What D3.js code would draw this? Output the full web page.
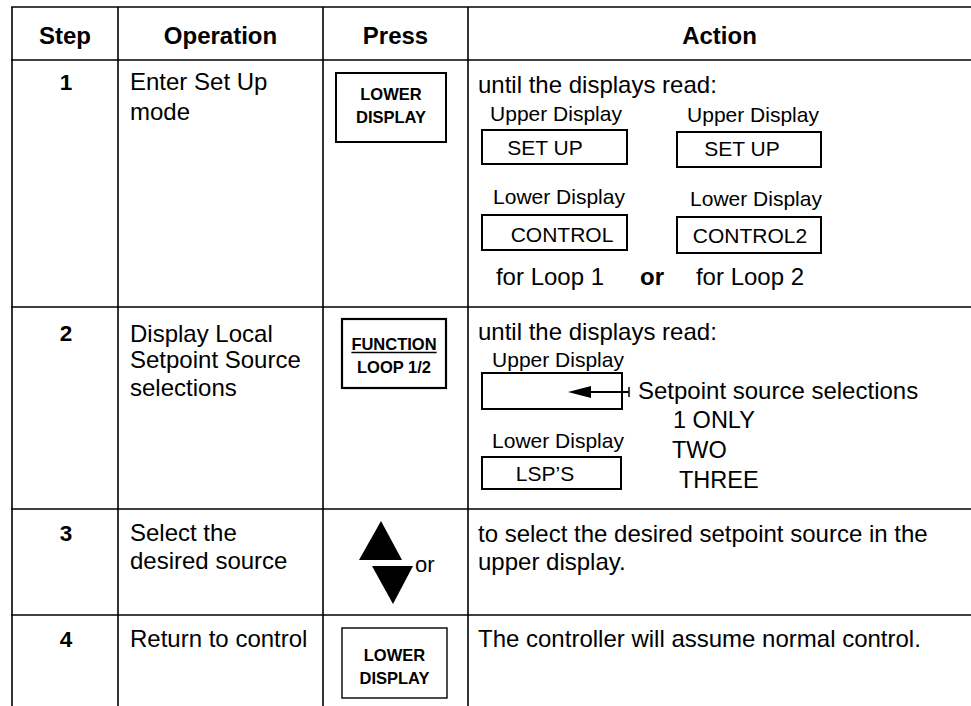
<!DOCTYPE html>
<html>
<head>
<meta charset="utf-8">
<script src="https://cdn.jsdelivr.net/npm/d3@7"></script>
<style>
  html, body { margin: 0; padding: 0; background: #fff; }
  svg { display: block; font-family: "Liberation Sans", Arial, Helvetica, sans-serif; }
</style>
</head>
<body>
<svg id="chart" width="971" height="706"></svg>
<script>
// ---------------- data ----------------
const headers = ["Step", "Operation", "Press", "Action"];
const steps = ["1", "2", "3", "4"];
const operations = [
  ["Enter Set Up", "mode"],
  ["Display Local", "Setpoint Source", "selections"],
  ["Select the", "desired source"],
  ["Return to control"]
];
const pressKeys = [
  ["LOWER", "DISPLAY"],
  ["FUNCTION", "LOOP 1/2"],
  null,
  ["LOWER", "DISPLAY"]
];
const arrowKeyWord = "or";
const actionIntro = [
  ["until the displays read:"],
  ["until the displays read:"],
  ["to select the desired setpoint source in the", "upper display."],
  ["The controller will assume normal control."]
];
const displayLabels = ["Upper Display", "Lower Display"];
const loop1Displays = ["SET UP", "CONTROL"];
const loop2Displays = ["SET UP", "CONTROL2"];
const loopCaptions = ["for Loop 1", "or", "for Loop 2"];
const setpointCaption = "Setpoint source selections";
const setpointSources = ["1 ONLY", "TWO", "THREE"];
const lspDisplay = "LSP\u2019S";

// ---------------- layout ----------------
const W = 971, H = 706;
const svg = d3.select("#chart");
const colEdges = [12, 118, 323, 468, 971];
const rowEdges = [7, 60, 307, 509, 615, 706];
const x = d3.scaleOrdinal().domain(headers).range(colEdges.slice(0, 4));
const xEnd = d3.scaleOrdinal().domain(headers).range(colEdges.slice(1));
const xMid = h => (x(h) + xEnd(h)) / 2;

const LW = 1.6;
// grid
const g = svg.append("g").attr("stroke", "#000").attr("stroke-width", LW);
g.selectAll("line.h").data(rowEdges.slice(0, 5)).join("line")
  .attr("x1", colEdges[0] - LW / 2).attr("x2", W)
  .attr("y1", d => d).attr("y2", d => d);
g.selectAll("line.v").data(colEdges.slice(0, 4)).join("line")
  .attr("x1", d => d).attr("x2", d => d)
  .attr("y1", rowEdges[0]).attr("y2", H);

// header
svg.append("g").selectAll("text").data(headers).join("text")
  .attr("x", d => xMid(d)).attr("y", 44)
  .attr("text-anchor", "middle").attr("font-weight", "bold").attr("font-size", 24)
  .text(d => d);

// step numbers
const stepBase = [90, 341, 541, 647];
svg.append("g").selectAll("text").data(steps).join("text")
  .attr("x", xMid("Step") + 1).attr("y", (d, i) => stepBase[i])
  .attr("text-anchor", "middle").attr("font-weight", "bold").attr("font-size", 22.5)
  .text(d => d);

// operations
const opBase = [[90, 120], [342, 368, 396], [541, 569], [647]];
operations.forEach((lines, i) => {
  svg.append("g").selectAll("text").data(lines).join("text")
    .attr("x", x("Operation") + 12).attr("y", (d, j) => opBase[i][j])
    .attr("font-size", 24).text(d => d);
});

// helpers
function box(x0, y0, w, h, sw) {
  svg.append("rect").attr("x", x0).attr("y", y0).attr("width", w).attr("height", h)
    .attr("fill", "none").attr("stroke", "#000").attr("stroke-width", sw || 2);
}
function txt(s, x0, y0, size, opts) {
  opts = opts || {};
  return svg.append("text").attr("x", x0).attr("y", y0).attr("font-size", size)
    .attr("text-anchor", opts.anchor || "start")
    .attr("font-weight", opts.bold ? "bold" : null)
    .text(s);
}

// press column keys
const keyBoxes = [
  { x: 336, y: 73, w: 110, h: 69, sw: 2, base: [100, 123] },
  { x: 342, y: 319, w: 104, h: 69, sw: 2.2, base: [350, 373] },
  null,
  { x: 342, y: 628, w: 105, h: 70, sw: 1.4, base: [661, 684] }
];
pressKeys.forEach((k, i) => {
  if (!k) return;
  const b = keyBoxes[i];
  box(b.x, b.y, b.w, b.h, b.sw);
  const cx = b.x + b.w / 2;
  k.forEach((s, j) => {
    const t = txt(s, cx, b.base[j], 16.5, { anchor: "middle", bold: true });
    if (s === "FUNCTION") {
      const bb = t.node().getBBox();
      svg.append("line").attr("x1", bb.x).attr("x2", bb.x + bb.width)
        .attr("y1", b.base[j] + 2.5).attr("y2", b.base[j] + 2.5)
        .attr("stroke", "#000").attr("stroke-width", 1.5);
    }
  });
});
// arrow keys (step 3)
svg.append("path").attr("d", d3.line()([[381, 521], [402, 560], [359, 560]]) + "Z").attr("fill", "#000");
svg.append("path").attr("d", d3.line()([[372, 566], [413, 566], [393, 604]]) + "Z").attr("fill", "#000");
txt(arrowKeyWord, 415, 572, 22);

// ---------- actions ----------
const introBase = [[93], [340], [542, 570], [647]];
actionIntro.forEach((lines, i) => {
  lines.forEach((s, j) => txt(s, x("Action") + 10, introBase[i][j], 24));
});

// step 1 displays
const dispCols = [
  { labelX: [556, 559], labelY: [121, 204], box: [[482, 130, 145, 34], [482, 215, 145, 35]], tx: [545, 562], ty: [155, 242], vals: loop1Displays },
  { labelX: [753, 756], labelY: [122, 206], box: [[677, 132, 144, 35], [677, 217, 144, 36]], tx: [742, 750], ty: [156, 243], vals: loop2Displays }
];
dispCols.forEach(c => {
  displayLabels.forEach((lab, r) => {
    txt(lab, c.labelX[r], c.labelY[r], 21, { anchor: "middle" });
    const bx = c.box[r];
    box(bx[0], bx[1], bx[2], bx[3], 2);
    txt(c.vals[r], c.tx[r], c.ty[r], 21, { anchor: "middle" });
  });
});
const loopX = [550, 652, 750];
loopCaptions.forEach((s, i) => txt(s, loopX[i], 285, 24, { anchor: "middle", bold: i === 1 }));

// step 2 displays
txt(displayLabels[0], 558, 367, 21, { anchor: "middle" });
box(482, 373, 140, 36, 2);
txt(displayLabels[1], 558, 448, 21, { anchor: "middle" });
box(482, 457, 139, 32, 2);
txt(lspDisplay, 545, 481, 21, { anchor: "middle" });
// arrow to the empty upper display
svg.append("line").attr("x1", 585).attr("x2", 629).attr("y1", 392).attr("y2", 392)
  .attr("stroke", "#000").attr("stroke-width", 2);
svg.append("path").attr("d", d3.line()([[568, 392], [591, 386], [591, 398]]) + "Z").attr("fill", "#000");
svg.append("line").attr("x1", 629).attr("x2", 629).attr("y1", 387).attr("y2", 397)
  .attr("stroke", "#000").attr("stroke-width", 1.5);
txt(setpointCaption, 638, 399, 24);
const srcX = [673, 672, 679], srcY = [428, 458, 488];
setpointSources.forEach((s, i) => txt(s, srcX[i], srcY[i], 23.5));
</script>
</body>
</html>
